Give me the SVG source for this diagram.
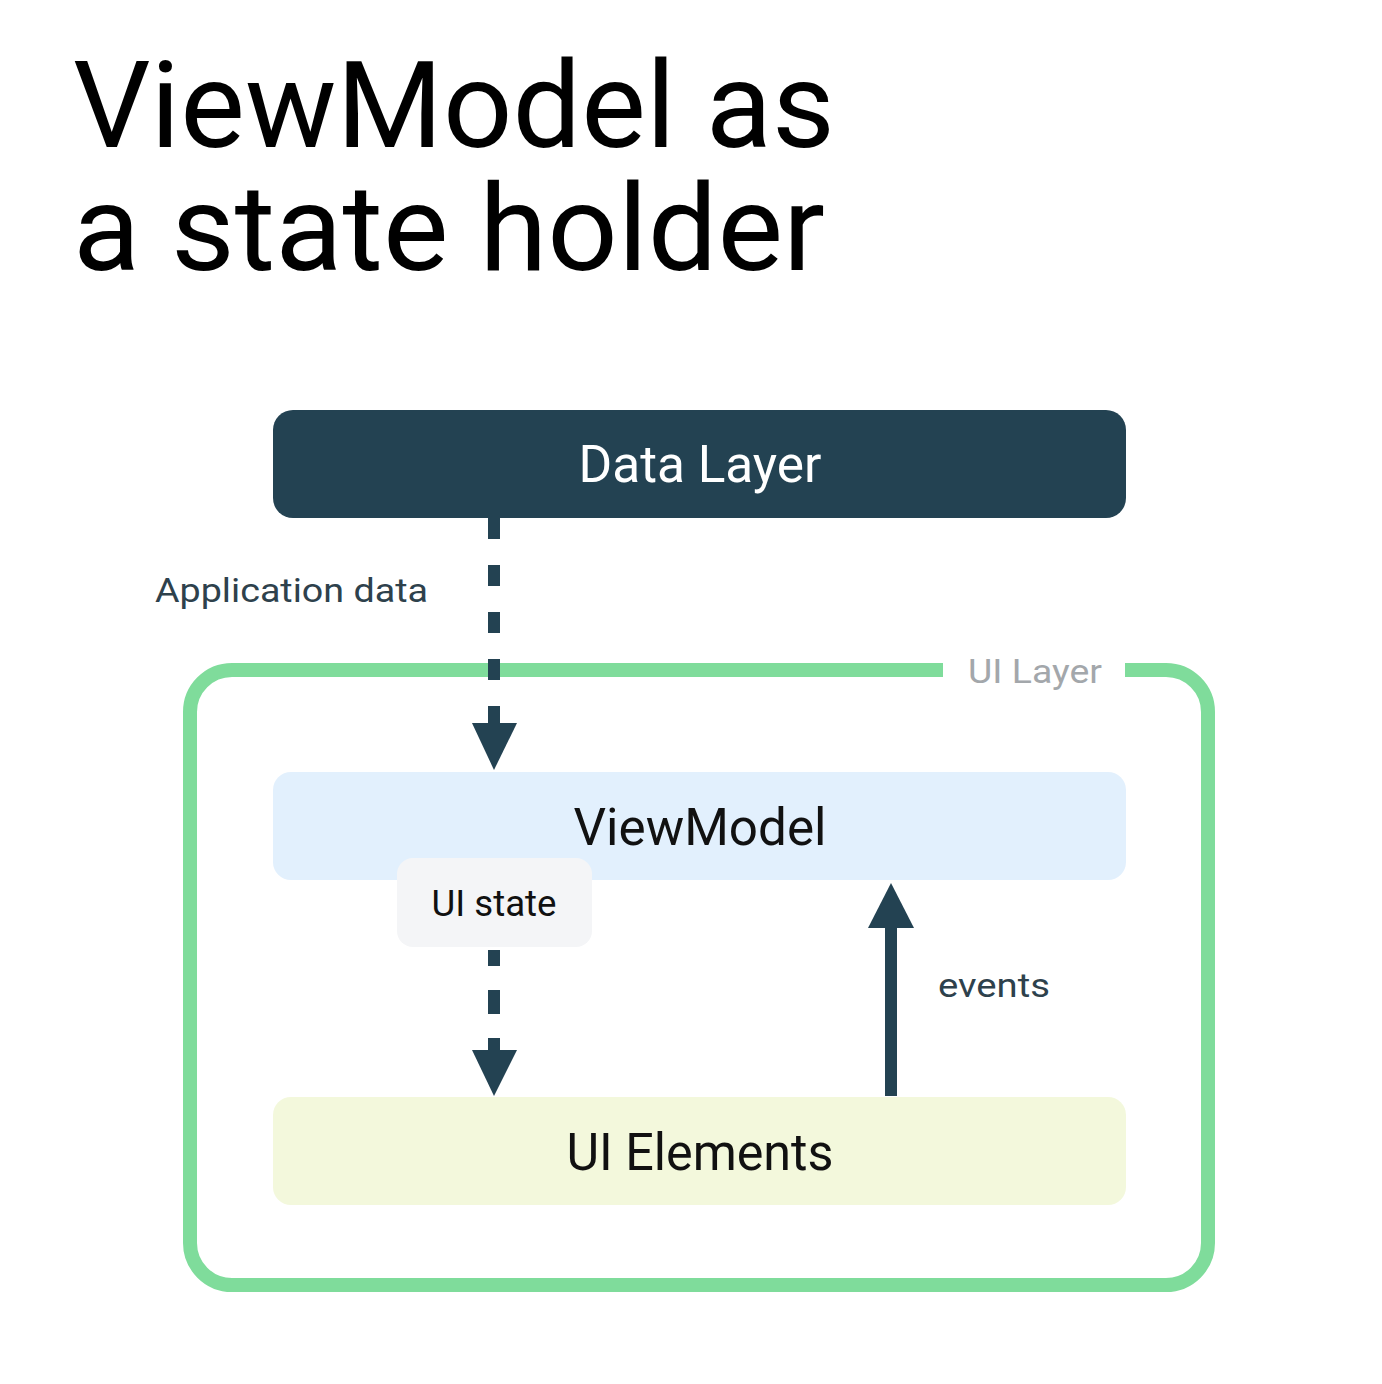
<svg xmlns="http://www.w3.org/2000/svg" width="1382" height="1384" viewBox="0 0 1382 1384">
<style>
.t{font-family:Roboto,"Liberation Sans",sans-serif}
.title{font-size:120px;fill:#000}
.big{font-size:52px;text-anchor:middle}
.lbl{font-size:34px;fill:#2e414c}
.dash{stroke:#234252;stroke-width:12;fill:none}
.head{fill:#234252}
</style>
<rect width="1382" height="1384" fill="#fff"/>
<g id="title">
<text class="t title" x="73" y="147" textLength="762" lengthAdjust="spacingAndGlyphs">ViewModel as</text>
<text class="t title" x="73" y="270" textLength="752" lengthAdjust="spacingAndGlyphs">a state holder</text>
</g>
<g id="ui-layer">
<path d="M943 670 H232 A42 42 0 0 0 190 712 V1243 A42 42 0 0 0 232 1285 H1166 A42 42 0 0 0 1208 1243 V712 A42 42 0 0 0 1166 670 H1125" fill="none" stroke="#7fdc9b" stroke-width="14"/>
<text class="t lbl" x="968" y="683" style="fill:#a3a7ab" textLength="134" lengthAdjust="spacingAndGlyphs">UI Layer</text>
</g>
<g id="data-layer">
<rect x="273" y="410" width="853" height="108" rx="20" fill="#234252"/>
<text class="t big" x="700" y="482" fill="#fff" textLength="243" lengthAdjust="spacingAndGlyphs">Data Layer</text>
</g>
<g id="viewmodel">
<rect x="273" y="772" width="853" height="108" rx="18" fill="#e2f0fd"/>
<text class="t big" x="700" y="845" fill="#111" textLength="253" lengthAdjust="spacingAndGlyphs">ViewModel</text>
</g>
<g id="ui-elements">
<rect x="273" y="1097" width="853" height="108" rx="18" fill="#f3f8dc"/>
<text class="t big" x="700" y="1170" fill="#111" textLength="267" lengthAdjust="spacingAndGlyphs">UI Elements</text>
</g>
<g id="connectors">
<line class="dash" x1="494" y1="518" x2="494" y2="723" stroke-dasharray="21 26"/>
<polygon class="head" points="472,723 517,723 494,770"/>
<line class="dash" x1="494" y1="950" x2="494" y2="1050" stroke-dasharray="16 24 24 24"/>
<polygon class="head" points="472,1050 517,1050 494,1096"/>
<line class="dash" x1="891" y1="1096" x2="891" y2="926"/>
<polygon class="head" points="868,928 914,928 891,883"/>
</g>
<g id="label-app-data">
<text class="t lbl" x="155" y="602" textLength="273" lengthAdjust="spacingAndGlyphs">Application data</text>
</g>
<g id="label-ui-state">
<rect x="397" y="858" width="195" height="89" rx="16" fill="#f4f5f7"/>
<text class="t lbl" x="494" y="916" text-anchor="middle" style="fill:#111;font-size:36px" textLength="125" lengthAdjust="spacingAndGlyphs">UI state</text>
</g>
<g id="label-events">
<text class="t lbl" x="938" y="997" textLength="112" lengthAdjust="spacingAndGlyphs">events</text>
</g>
</svg>
